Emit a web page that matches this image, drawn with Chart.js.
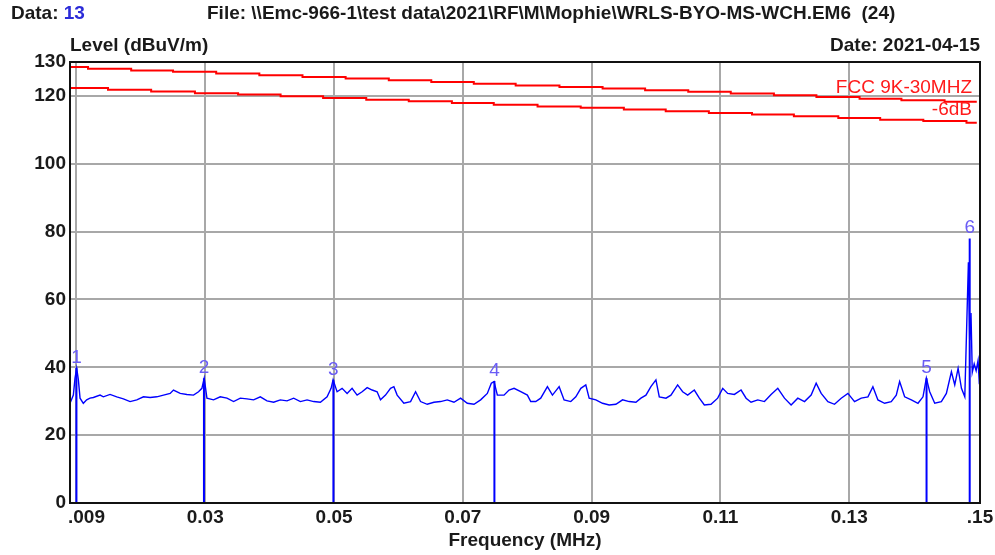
<!DOCTYPE html>
<html>
<head>
<meta charset="utf-8">
<script src="https://cdn.jsdelivr.net/npm/chart.js@4.4.0/dist/chart.umd.min.js"></script>
<style>
  html, body { margin: 0; padding: 0; background: #fff; }
  canvas { display: block; }
</style>
</head>
<body>
<canvas id="emc-chart" width="995" height="555"></canvas>
<script>
// --- Data ---
const traceFreq = [
  0.00900, 0.00952, 0.00978, 0.01004, 0.01030, 0.01056, 0.01107, 0.01159, 0.01211, 0.01263,
  0.01367, 0.01418, 0.01522, 0.01626, 0.01729, 0.01833, 0.01937, 0.02041, 0.02144, 0.02248,
  0.02352, 0.02455, 0.02507, 0.02611, 0.02715, 0.02818, 0.02896, 0.02948, 0.02984, 0.03026,
  0.03129, 0.03233, 0.03337, 0.03440, 0.03544, 0.03648, 0.03751, 0.03855, 0.03959, 0.04062,
  0.04166, 0.04270, 0.04373, 0.04477, 0.04581, 0.04684, 0.04788, 0.04892, 0.04954, 0.04985,
  0.05047, 0.05125, 0.05203, 0.05280, 0.05358, 0.05436, 0.05514, 0.05592, 0.05669, 0.05721,
  0.05799, 0.05877, 0.05929, 0.05980, 0.06084, 0.06188, 0.06266, 0.06343, 0.06447, 0.06551,
  0.06654, 0.06758, 0.06862, 0.06965, 0.07069, 0.07173, 0.07276, 0.07380, 0.07442, 0.07484,
  0.07536, 0.07639, 0.07717, 0.07795, 0.07899, 0.08002, 0.08054, 0.08132, 0.08209, 0.08313,
  0.08391, 0.08495, 0.08572, 0.08676, 0.08754, 0.08832, 0.08909, 0.08961, 0.09065, 0.09169,
  0.09272, 0.09376, 0.09480, 0.09583, 0.09687, 0.09765, 0.09843, 0.09920, 0.09998, 0.10050,
  0.10154, 0.10231, 0.10335, 0.10413, 0.10491, 0.10594, 0.10672, 0.10750, 0.10853, 0.10957,
  0.11035, 0.11112, 0.11216, 0.11320, 0.11398, 0.11475, 0.11579, 0.11683, 0.11786, 0.11890,
  0.11994, 0.12097, 0.12201, 0.12305, 0.12408, 0.12486, 0.12564, 0.12668, 0.12771, 0.12875,
  0.12979, 0.13082, 0.13186, 0.13290, 0.13367, 0.13445, 0.13549, 0.13652, 0.13730, 0.13782,
  0.13860, 0.13964, 0.14067, 0.14145, 0.14197, 0.14249, 0.14327, 0.14430, 0.14508, 0.14586,
  0.14638, 0.14690, 0.14742, 0.14794, 0.14850, 0.14870, 0.14890, 0.14910, 0.14940, 0.14970,
  0.15000, 0.15020
];
const traceLevel = [
  29.4, 31.8, 36.8, 39.7, 36.3, 30.9, 29.4, 30.4, 30.9, 31.1,
  31.8, 31.3, 32.0, 31.3, 30.7, 29.9, 30.4, 31.3, 31.1, 31.3,
  31.8, 32.3, 33.3, 32.3, 32.0, 31.8, 32.8, 33.8, 36.8, 30.9,
  30.4, 31.3, 30.9, 29.9, 30.9, 30.7, 30.4, 31.3, 30.1, 29.7,
  30.4, 30.1, 30.9, 29.9, 30.4, 29.9, 29.7, 31.3, 33.8, 36.3,
  32.8, 33.8, 32.3, 33.8, 31.8, 32.8, 34.0, 33.3, 32.8, 30.4,
  31.8, 33.8, 34.3, 31.8, 29.4, 29.9, 32.8, 29.9, 29.1, 29.7,
  29.9, 30.4, 29.7, 30.9, 29.4, 29.1, 30.4, 32.3, 35.3, 35.8,
  31.8, 31.8, 33.3, 33.8, 32.8, 31.8, 29.9, 29.9, 30.9, 34.3,
  31.8, 34.3, 30.4, 29.9, 31.3, 33.8, 34.8, 30.9, 30.4, 29.4,
  28.9, 29.1, 30.4, 29.9, 29.7, 30.9, 31.8, 34.3, 36.3, 31.3,
  30.9, 31.8, 34.8, 32.8, 31.8, 33.3, 30.9, 28.9, 29.1, 30.9,
  33.8, 32.3, 32.0, 33.3, 30.9, 29.7, 30.4, 29.9, 32.0, 33.8,
  30.9, 28.9, 30.9, 29.9, 31.8, 35.3, 32.3, 29.9, 29.1, 30.9,
  32.3, 29.9, 30.9, 31.3, 34.3, 30.4, 29.4, 29.9, 31.8, 35.8,
  31.3, 30.4, 29.4, 31.3, 36.8, 32.8, 29.4, 29.9, 32.3, 38.7,
  34.8, 39.7, 33.8, 31.3, 71.0, 48.0, 56.0, 38.5, 41.0, 39.0,
  42.0, 35.0
];

// marker peaks (numbered 1..6)
const markerFreq = [0.0100, 0.0298, 0.0499, 0.0749, 0.1420, 0.1487];
const markerLevel = [39.8, 36.8, 36.3, 36.0, 36.8, 78.0];

// FCC 9K-30MHZ limit, staircase as drawn
const limitFreq = [
  0.0090, 0.0118, 0.0185, 0.0250, 0.0317, 0.0384, 0.0451, 0.0518, 0.0585, 0.0651,
  0.0717, 0.0782, 0.0850, 0.0917, 0.0983, 0.1050, 0.1116, 0.1183, 0.1249, 0.1316,
  0.1381, 0.1448, 0.1498
];
const limitLevel = [
  128.5, 128.0, 127.5, 127.1, 126.6, 126.1, 125.6, 125.1, 124.6, 124.1,
  123.6, 123.1, 122.6, 122.2, 121.7, 121.2, 120.7, 120.2, 119.7, 119.2,
  118.7, 118.3, 118.3
];
// -6dB margin line
const marginFreq = [
  0.0090, 0.0149, 0.0216, 0.0284, 0.0351, 0.0417, 0.0483, 0.0550, 0.0616, 0.0683,
  0.0748, 0.0816, 0.0883, 0.0950, 0.1015, 0.1082, 0.1149, 0.1214, 0.1283, 0.1348,
  0.1415, 0.1482, 0.1498
];
const marginLevel = [
  122.3, 121.8, 121.3, 120.8, 120.4, 119.9, 119.4, 118.9, 118.4, 117.9,
  117.4, 116.9, 116.5, 116.0, 115.5, 115.0, 114.5, 114.0, 113.5, 113.0,
  112.6, 112.1, 112.1
];

const xGridValues = [0.01, 0.03, 0.05, 0.07, 0.09, 0.11, 0.13];
const xTickValues = [0.009, 0.03, 0.05, 0.07, 0.09, 0.11, 0.13, 0.15];
const xTickLabels = ['.009', '0.03', '0.05', '0.07', '0.09', '0.11', '0.13', '.15'];
const yTickValues = [0, 20, 40, 60, 80, 100, 120, 130];

// --- build datasets ---
const zip = (xs, ys) => xs.map((x, i) => ({ x: x, y: ys[i] }));

const markerLines = [];
markerFreq.forEach((f, i) => {
  markerLines.push({ x: f, y: 0 }, { x: f, y: markerLevel[i] }, { x: f, y: null });
});

const BOLD = 'bold 19px "Liberation Sans", Arial, sans-serif';
const NORMAL = '19px "Liberation Sans", Arial, sans-serif';
const TEXT = '#1a1a1a';

const decorPlugin = {
  id: 'decor',
  afterDraw(chart) {
    const ctx = chart.ctx;
    const a = chart.chartArea;
    const xs = chart.scales.x, ys = chart.scales.y;
    ctx.save();

    // frame
    ctx.strokeStyle = '#111';
    ctx.lineWidth = 2;
    ctx.strokeRect(a.left, a.top, a.right - a.left, a.bottom - a.top);

    ctx.fillStyle = TEXT;
    ctx.font = BOLD;
    ctx.textBaseline = 'middle';

    // y tick labels
    ctx.textAlign = 'right';
    yTickValues.forEach(v => ctx.fillText(String(v), a.left - 4, ys.getPixelForValue(v)));

    // x tick labels
    xTickValues.forEach((v, i) => {
      const px = xs.getPixelForValue(v);
      ctx.textAlign = i === 0 ? 'left' : 'center';
      ctx.fillText(xTickLabels[i], i === 0 ? a.left - 2 : (i === xTickValues.length - 1 ? a.right : px), 518);
    });

    // header texts
    ctx.textAlign = 'left';
    ctx.fillText('Data: ', 11, 14);
    const w = ctx.measureText('Data: ').width;
    ctx.fillStyle = '#2b2bd8';
    ctx.fillText('13', 11 + w, 14);
    ctx.fillStyle = TEXT;
    ctx.fillText('File: \\\\Emc-966-1\\test data\\2021\\RF\\M\\Mophie\\WRLS-BYO-MS-WCH.EM6  (24)', 207, 14);
    ctx.fillText('Level (dBuV/m)', 70, 46);
    ctx.textAlign = 'right';
    ctx.fillText('Date: 2021-04-15', 980, 46);
    ctx.textAlign = 'center';
    ctx.fillText('Frequency (MHz)', 525, 541);

    // limit labels
    ctx.font = NORMAL;
    ctx.fillStyle = '#ff1a1a';
    ctx.textAlign = 'right';
    ctx.fillText('FCC 9K-30MHZ', 972, 88);
    ctx.fillText('-6dB', 972, 110);

    // marker numbers
    ctx.fillStyle = '#6a5cf5';
    ctx.textAlign = 'center';
    ctx.textBaseline = 'bottom';
    markerFreq.forEach((f, i) => {
      ctx.fillText(String(i + 1), xs.getPixelForValue(f), ys.getPixelForValue(markerLevel[i]) - 1);
    });
    ctx.restore();
  }
};

new Chart(document.getElementById('emc-chart'), {
  type: 'line',
  data: {
    datasets: [
      { data: zip(traceFreq, traceLevel), borderColor: '#0000ff', borderWidth: 1.4, pointRadius: 0, tension: 0 },
      { data: markerLines, borderColor: '#0000ff', borderWidth: 2, pointRadius: 0, spanGaps: false },
      { data: zip(limitFreq, limitLevel), borderColor: '#ff0000', borderWidth: 2, pointRadius: 0, stepped: true },
      { data: zip(marginFreq, marginLevel), borderColor: '#ff0000', borderWidth: 2, pointRadius: 0, stepped: true }
    ]
  },
  options: {
    responsive: false,
    animation: false,
    events: [],
    layout: { padding: { left: 70, right: 15, top: 62, bottom: 52 } },
    plugins: { legend: { display: false }, tooltip: { enabled: false } },
    scales: {
      x: {
        type: 'linear', min: 0.009, max: 0.1503,
        afterBuildTicks: s => { s.ticks = xGridValues.map(v => ({ value: v })); },
        ticks: { display: false },
        grid: { color: '#a8a8a8', lineWidth: 2, drawTicks: false },
        border: { display: false }
      },
      y: {
        type: 'linear', min: 0, max: 130,
        afterBuildTicks: s => { s.ticks = yTickValues.map(v => ({ value: v })); },
        ticks: { display: false },
        grid: { color: '#a8a8a8', lineWidth: 2, drawTicks: false },
        border: { display: false }
      }
    }
  },
  plugins: [decorPlugin]
});
</script>
</body>
</html>
